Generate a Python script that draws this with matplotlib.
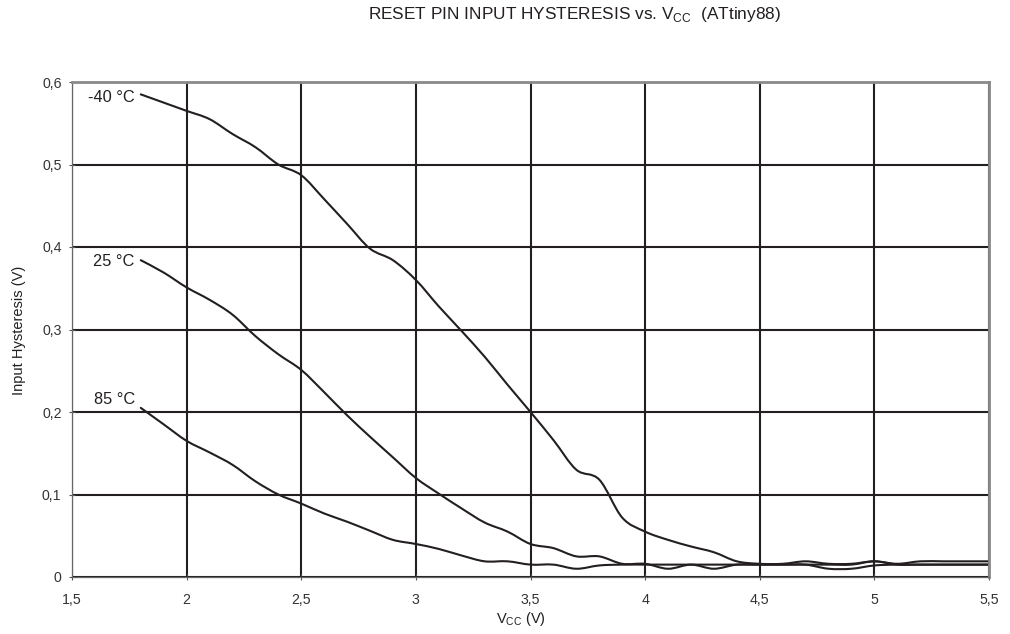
import matplotlib
matplotlib.use("Agg")
import matplotlib.pyplot as plt
from matplotlib.path import Path
from matplotlib.patches import PathPatch
import numpy as np

plt.rcParams['font.family'] = ['Liberation Sans', 'DejaVu Sans']

vcc = [1.8, 1.9, 2.0, 2.1, 2.2, 2.3, 2.4, 2.5, 2.6, 2.7, 2.8, 2.9, 3.0, 3.1, 3.2, 3.3, 3.4,
       3.5, 3.6, 3.7, 3.8, 3.9, 4.0, 4.1, 4.2, 4.3, 4.4, 4.5, 4.6, 4.7, 4.8, 4.9, 5.0, 5.1,
       5.2, 5.3, 5.4, 5.5]

hyst_m40 = [0.585, 0.575, 0.565, 0.555, 0.537, 0.521, 0.500, 0.487, 0.458, 0.428, 0.398, 0.384,
            0.360, 0.328, 0.298, 0.267, 0.233, 0.200, 0.166, 0.130, 0.118, 0.072, 0.055, 0.045,
            0.037, 0.030, 0.019, 0.016, 0.016, 0.019, 0.016, 0.016, 0.019, 0.016, 0.019, 0.019,
            0.019, 0.019]
hyst_25 = [0.384, 0.369, 0.351, 0.336, 0.318, 0.292, 0.270, 0.251, 0.224, 0.196, 0.170, 0.145,
           0.120, 0.101, 0.083, 0.066, 0.055, 0.040, 0.035, 0.025, 0.025, 0.016, 0.016, 0.010,
           0.015, 0.010, 0.015, 0.015, 0.015, 0.015, 0.010, 0.010, 0.014, 0.015, 0.015, 0.015,
           0.015, 0.015]
hyst_85 = [0.205, 0.185, 0.165, 0.151, 0.136, 0.116, 0.100, 0.089, 0.077, 0.067, 0.056, 0.045,
           0.040, 0.034, 0.026, 0.019, 0.019, 0.015, 0.015, 0.010, 0.014, 0.015, 0.015, 0.015,
           0.015, 0.015, 0.015, 0.015, 0.015, 0.015, 0.015, 0.015, 0.019, 0.015, 0.015, 0.015,
           0.015, 0.015]

series_labels = ["-40 °C", "25 °C", "85 °C"]
x_ticks = [1.5, 2, 2.5, 3, 3.5, 4, 4.5, 5, 5.5]
x_tick_labels = ["1,5", "2", "2,5", "3", "3,5", "4", "4,5", "5", "5,5"]
y_ticks = [0, 0.1, 0.2, 0.3, 0.4, 0.5, 0.6]
y_tick_labels = ["0", "0,1", "0,2", "0,3", "0,4", "0,5", "0,6"]

# label offsets from curve start, in pixels (style only)
label_offsets = [(-6, -3.5), (-6, -1.0), (-6, 8.5)]

INK = '#231f20'

fig = plt.figure(figsize=(10.10, 6.34), dpi=100)
ax = fig.add_axes([72/1010, 1-577/634, (989-72)/1010, (577-82)/634])

ax.set_xlim(1.5, 5.5)
ax.set_ylim(0, 0.6)
ax.set_xticks(x_ticks)
ax.set_xticklabels(x_tick_labels)
ax.set_yticks(y_ticks)
ax.set_yticklabels(y_tick_labels)
ax.tick_params(axis='both', labelsize=10.2, labelcolor='#333333', color='#555555',
               length=5, width=0.8, direction='inout')
ax.tick_params(axis='x', pad=9)
ax.tick_params(axis='y', pad=5)
ax.grid(True, color=INK, linewidth=1.5)
ax.set_axisbelow(True)

for side in ['top', 'right']:
    ax.spines[side].set_color('#8a8a8a')
    ax.spines[side].set_linewidth(2.0)
for side in ['left', 'bottom']:
    ax.spines[side].set_color('#666666')
    ax.spines[side].set_linewidth(0.9)


def smooth_path(xs, ys):
    """Excel-style smoothed line: cubic Bezier segments through the points."""
    pts = np.column_stack([xs, ys])
    n = len(pts)
    verts = [pts[0]]
    codes = [Path.MOVETO]
    for i in range(n - 1):
        p0 = pts[i - 1] if i > 0 else pts[i]
        p1 = pts[i]
        p2 = pts[i + 1]
        p3 = pts[i + 2] if i + 2 < n else pts[i + 1]
        c1 = p1 + (p2 - p0) / 6.0
        c2 = p2 - (p3 - p1) / 6.0
        verts += [c1, c2, p2]
        codes += [Path.CURVE4] * 3
    return Path(verts, codes)


for ys, lab, (dx, dy) in zip([hyst_m40, hyst_25, hyst_85], series_labels, label_offsets):
    patch = PathPatch(smooth_path(vcc, ys), facecolor='none', edgecolor=INK,
                      linewidth=1.5, capstyle='round', joinstyle='round')
    ax.add_patch(patch)
    ax.annotate(lab, xy=(vcc[0], ys[0]), xytext=(dx, dy), textcoords='offset pixels',
                ha='right', va='center', fontsize=11.8, color=INK)

fig.text(575/1010, 1-14/634, r"RESET PIN INPUT HYSTERESIS vs. V$_{\mathregular{CC}}$  (ATtiny88)",
         ha='center', va='center', fontsize=12.4, color=INK)
fig.text(521/1010, 1-619/634, r"V$_{\mathregular{CC}}$ (V)", ha='center', va='center',
         fontsize=10.5, color=INK)
fig.text(19/1010, 1-330/634, "Input Hysteresis (V)", ha='center', va='center', rotation=90,
         fontsize=10.5, color=INK)

fig.savefig("out.png", dpi=100)
